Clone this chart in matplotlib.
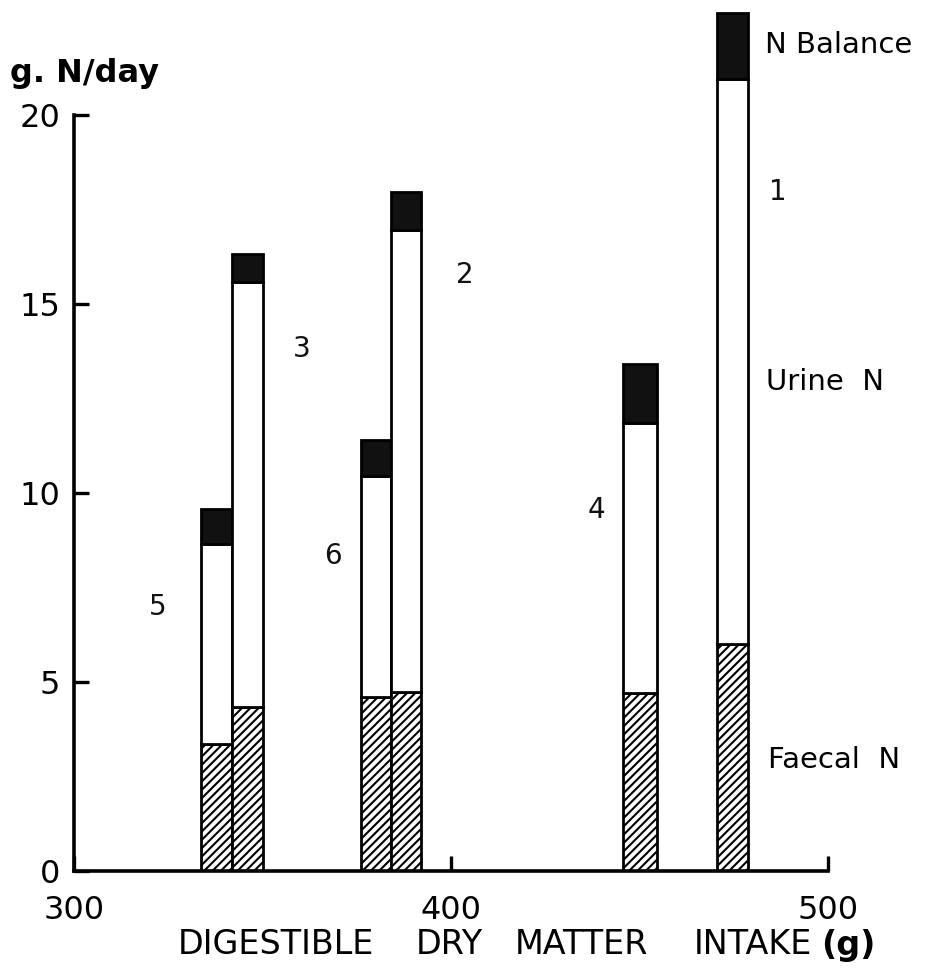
import matplotlib
matplotlib.use("Agg")
import matplotlib.pyplot as plt

plt.rcParams['font.family'] = ['DejaVu Sans']
plt.rcParams['hatch.linewidth'] = 1.5

# Nitrogen partition per diet: digestible DM intake (g) and N outputs (g N/day)
diets = ["5", "3", "6", "2", "4", "1"]
intake = [337.8, 346.0, 380.1, 388.1, 450.1, 474.7]
bar_width = [8.2, 8.2, 8.0, 8.0, 9.0, 8.2]
faecal_n = [3.36, 4.34, 4.60, 4.73, 4.70, 6.00]
urine_n = [5.29, 11.24, 5.86, 12.23, 7.15, 14.95]
n_balance = [0.93, 0.74, 0.94, 1.00, 1.55, 1.76]

# Diet number labels placed beside their bars
label_x = [322.3, 360.5, 368.7, 403.7, 438.7, 486.7]
label_y = [6.98, 13.8, 8.33, 15.77, 9.55, 17.96]

x_ticks = [300, 400, 500]
y_ticks = [0, 5, 10, 15, 20]

# Axis title split into its words, with the unit in bold
xlabel_words = ["DIGESTIBLE", "DRY", "MATTER", "INTAKE"]
xlabel_centres = [276, 449, 582, 753]

fig = plt.figure(figsize=(9.38, 9.74), dpi=100)
ax = fig.add_axes([74 / 938, (974 - 871) / 974, 754 / 938, 23 * 37.8 / 974])

for i in range(len(diets)):
    ax.bar(intake[i], faecal_n[i], width=bar_width[i], bottom=0,
           facecolor="white", edgecolor="black", linewidth=2.0,
           hatch="////")
    ax.bar(intake[i], urine_n[i], width=bar_width[i], bottom=faecal_n[i],
           facecolor="white", edgecolor="black", linewidth=2.0)
    ax.bar(intake[i], n_balance[i], width=bar_width[i],
           bottom=faecal_n[i] + urine_n[i],
           facecolor="#111111", edgecolor="black", linewidth=2.0)
    ax.text(label_x[i], label_y[i], diets[i], fontsize=20, ha="center",
            va="center", color="#111111")

# Component legend written next to the tallest bar
ax.text(483.3, 21.85, "N Balance", fontsize=21, ha="left", va="center")
ax.text(483.5, 12.94, "Urine  N", fontsize=21, ha="left", va="center")
ax.text(484.0, 2.94, "Faecal  N", fontsize=21, ha="left", va="center")

ax.set_xlim(300, 500)
ax.set_ylim(0, 23)
for side in ("top", "right"):
    ax.spines[side].set_visible(False)
ax.spines["left"].set_bounds(0, 20)
ax.spines["left"].set_linewidth(2.6)
ax.spines["bottom"].set_linewidth(2.6)

ax.set_xticks(x_ticks)
ax.set_yticks(y_ticks)
ax.tick_params(axis="both", direction="in", length=11, width=2.4,
               labelsize=23, colors="black")
ax.tick_params(axis="x", pad=17)
ax.tick_params(axis="y", pad=10)

ax.text(283, 21.1, "g. N/day", fontsize=23, ha="left", va="center",
        fontweight="bold", clip_on=False)

for word, xc in zip(xlabel_words, xlabel_centres):
    fig.text(xc / 938, 1 - 945 / 974, word, fontsize=24, ha="center",
             va="center")
fig.text(848 / 938, 1 - 945 / 974, "(g)", fontsize=24, ha="center",
         va="center", fontweight="bold")

fig.savefig("out.png", dpi=100, facecolor="white")
